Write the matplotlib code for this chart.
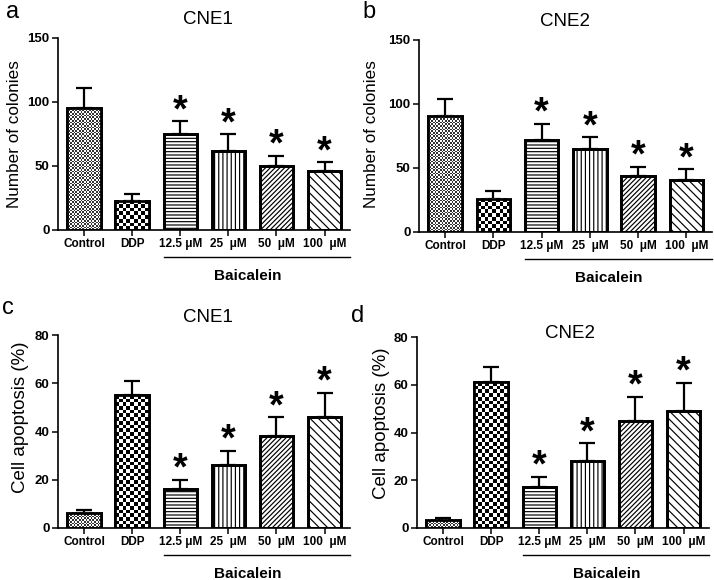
import numpy as np
import matplotlib
matplotlib.use('Agg')
import matplotlib.pyplot as plt
from matplotlib.colors import ListedColormap
from matplotlib.transforms import blended_transform_factory

plt.rcParams['font.family'] = ['Liberation Sans', 'DejaVu Sans']
plt.rcParams['hatch.linewidth'] = 0.85

# ---------------- data ----------------
categories = ['Control', 'DDP', '12.5 μM', '25  μM', '50  μM', '100  μM']
group_label = 'Baicalein'
significant = [False, False, True, True, True, True]

colonies_cne1 = [95, 23, 75, 62, 50, 46]
colonies_cne1_err = [16, 5, 10, 13, 8, 7]
colonies_cne2 = [91, 26, 71.5, 65, 44, 41]
colonies_cne2_err = [13, 6, 13, 9, 7, 8]
apoptosis_cne1 = [6.3, 55, 16, 26, 38, 46]
apoptosis_cne1_err = [1, 6, 4, 6, 8, 10]
apoptosis_cne2 = [3.5, 61, 17, 28, 45, 49]
apoptosis_cne2_err = [0.8, 6.5, 4.5, 7.5, 10, 11.8]

colony_ticks = [0, 50, 100, 150]
apoptosis_ticks = [0, 20, 40, 60, 80]

# ---------------- styling ----------------
W, H = 714, 580
patterns = ['fine', 'checker', '-----', '||||', '///////', '\\\\\\\\']
bar_w = 0.69

panels = [
    dict(letter='a', title='CNE1', vals=colonies_cne1, errs=colonies_cne1_err,
         ticks=colony_ticks, ylabel='Number of colonies', ylfs=12.3,
         box=(58, 350, 38, 230), title_xy=(208, 20), letter_xy=(13, 18), ylabel_xy=(15, 134)),
    dict(letter='b', title='CNE2', vals=colonies_cne2, errs=colonies_cne2_err,
         ticks=colony_ticks, ylabel='Number of colonies', ylfs=12.3,
         box=(419, 712, 40, 232), title_xy=(565, 22), letter_xy=(369, 18), ylabel_xy=(371, 134)),
    dict(letter='c', title='CNE1', vals=apoptosis_cne1, errs=apoptosis_cne1_err,
         ticks=apoptosis_ticks, ylabel='Cell apoptosis (%)', ylfs=13.5,
         box=(58, 350, 335, 528), title_xy=(208, 318), letter_xy=(8, 314), ylabel_xy=(21, 417)),
    dict(letter='d', title='CNE2', vals=apoptosis_cne2, errs=apoptosis_cne2_err,
         ticks=apoptosis_ticks, ylabel='Cell apoptosis (%)', ylfs=13.5,
         box=(417, 709, 337, 528), title_xy=(570, 333), letter_xy=(358, 322), ylabel_xy=(382, 423)),
]

fig = plt.figure(figsize=(W / 100, H / 100), dpi=100)


def checker(ax, x0, width, h, cell_px, dark):
    bbox = ax.get_window_extent()
    xl = ax.get_xlim()
    yl = ax.get_ylim()
    px_x = bbox.width / (xl[1] - xl[0])
    px_y = bbox.height / (yl[1] - yl[0])
    nx = max(1, int(round(width * px_x / cell_px)))
    ny = max(1, int(round(h * px_y / cell_px)))
    arr = np.add.outer(np.arange(ny), np.arange(nx)) % 2
    ax.imshow(arr, cmap=ListedColormap(['white', dark]), extent=(x0, x0 + width, 0, h),
              interpolation='nearest', aspect='auto', zorder=2.5, origin='lower')


for p in panels:
    l, r, t, b = p['box']
    ax = fig.add_axes([l / W, 1 - b / H, (r - l) / W, (b - t) / H])
    x = np.arange(len(categories))
    xlim = (-0.54, len(categories) - 0.47)
    ylim = (0, p['ticks'][-1])
    ax.set_xlim(*xlim)
    ax.set_ylim(*ylim)

    bars = ax.bar(x, p['vals'], width=bar_w, color='white', edgecolor='black',
                  linewidth=2.0, zorder=2)
    for bar, pat in zip(bars, patterns):
        if pat not in ('fine', 'checker'):
            bar.set_hatch(pat)
    for xi, v, pat in zip(x, p['vals'], patterns):
        if pat == 'fine':
            checker(ax, xi - bar_w / 2, bar_w, v, 1.7, '#333333')
        elif pat == 'checker':
            checker(ax, xi - bar_w / 2, bar_w, v, 3.7, 'black')
    ax.bar(x, p['vals'], width=bar_w, fill=False, edgecolor='black', linewidth=2.0, zorder=3)

    ax.errorbar(x, p['vals'], yerr=[np.zeros(len(x)), p['errs']], fmt='none',
                ecolor='black', elinewidth=1.6, capsize=6, capthick=1.6, zorder=1)

    for xi, v, e, s in zip(x, p['vals'], p['errs'], significant):
        if s:
            ax.annotate('*', (xi, v + e), xytext=(0, 0), textcoords='offset points',
                        ha='center', va='baseline', fontsize=27, fontweight='bold')

    ax.set_xlim(*xlim)
    ax.set_ylim(*ylim)
    ax.set_yticks(p['ticks'])
    ax.set_yticklabels([str(v) for v in p['ticks']], fontsize=9.5, fontweight='bold')
    ax.set_xticks(x)
    ax.set_xticklabels(categories, fontsize=8.5, fontweight='bold')
    ax.tick_params(axis='both', direction='out', length=4, width=1.1, pad=2)
    for s in ['top', 'right']:
        ax.spines[s].set_visible(False)
    for s in ['left', 'bottom']:
        ax.spines[s].set_linewidth(1.2)

    tr = blended_transform_factory(ax.transData, ax.transAxes)
    ax.plot([2 - bar_w / 2, xlim[1]], [-0.14, -0.14], color='black', lw=1.0,
            transform=tr, clip_on=False)
    ax.text(3.4, -0.24, group_label, transform=tr, ha='center', va='center',
            fontsize=11, fontweight='bold')

    fig.text(p['title_xy'][0] / W, 1 - p['title_xy'][1] / H, p['title'],
             ha='center', va='center', fontsize=13.5)
    fig.text(p['letter_xy'][0] / W, 1 - p['letter_xy'][1] / H, p['letter'],
             ha='center', va='baseline', fontsize=17)
    fig.text(p['ylabel_xy'][0] / W, 1 - p['ylabel_xy'][1] / H, p['ylabel'],
             ha='center', va='center', fontsize=p['ylfs'], rotation=90)

fig.savefig('out.png', dpi=100)
